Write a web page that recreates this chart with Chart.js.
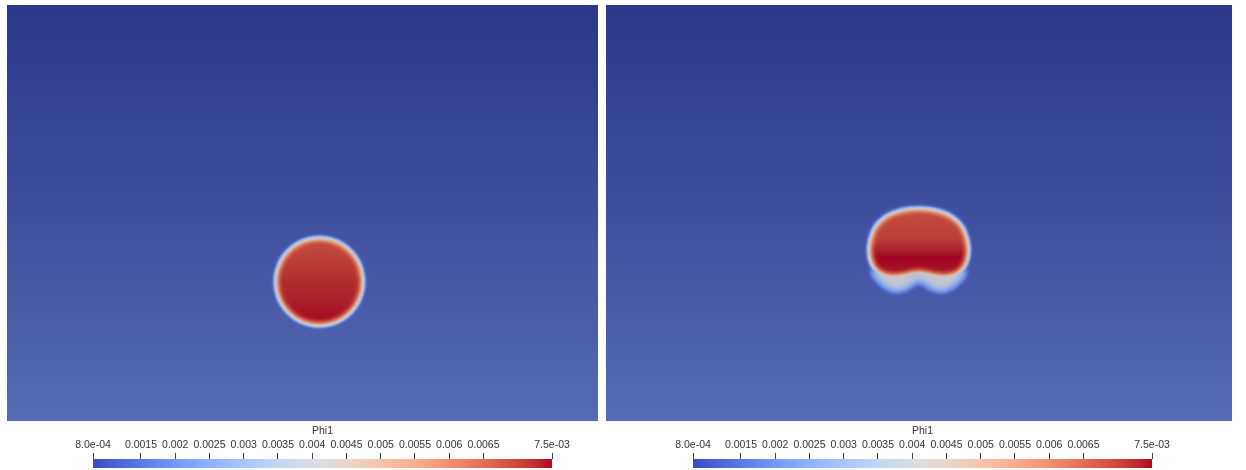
<!DOCTYPE html>
<html>
<head>
<meta charset="utf-8">
<script src="https://cdn.jsdelivr.net/npm/chart.js@4.4.1/dist/chart.umd.min.js"></script>
<style>
    body { margin: 0; width: 1246px; height: 470px; background: #fff; position: relative; overflow: hidden; }
    canvas { position: absolute; }
</style>
</head>
<body>
<canvas id="fieldLeft" width="591" height="416" style="left:7px;top:5px"></canvas>
<canvas id="fieldRight" width="626" height="416" style="left:606px;top:5px"></canvas>
<canvas id="barLeft" width="560" height="48" style="left:40px;top:422px"></canvas>
<canvas id="barRight" width="560" height="48" style="left:640px;top:422px"></canvas>
<script>
// Plage de Phi1 et graduations de la barre de couleurs
const phiMin = 0.0008;
const phiMax = 0.0075;
const phiTicks = [0.0008, 0.0015, 0.002, 0.0025, 0.003, 0.0035, 0.004, 0.0045, 0.005, 0.0055, 0.006, 0.0065, 0.0075];

// Contour de la goutte, instant initial (x, y en unités de hauteur du domaine)
const dropletLeft = [
    [0.857, 0.335], [0.843, 0.388], [0.804, 0.427], [0.751, 0.441],
    [0.698, 0.427], [0.659, 0.388], [0.645, 0.335], [0.659, 0.282],
    [0.698, 0.243], [0.751, 0.229], [0.804, 0.243], [0.843, 0.282]
];
// Phi1 à l'intérieur de la goutte selon la hauteur [y, phi]
const dropletLeftPhi = [[0.441, 0.0068], [0.335, 0.0072], [0.229, 0.0075]];

// Contour de la goutte déformée, instant final
const dropletRight = [
    [0.752, 0.512], [0.813, 0.502], [0.853, 0.474], [0.870, 0.435],
    [0.872, 0.399], [0.861, 0.368], [0.837, 0.350], [0.803, 0.346],
    [0.752, 0.355], [0.702, 0.346], [0.668, 0.350], [0.643, 0.368],
    [0.632, 0.399], [0.634, 0.435], [0.651, 0.474], [0.691, 0.502]
];
const dropletRightPhi = [[0.512, 0.0068], [0.44, 0.0070], [0.395, 0.0075], [0.36, 0.0074]];

// Lobes diffus sous la goutte déformée
const wakeRight = [
    [0.643, 0.368], [0.656, 0.334], [0.690, 0.312], [0.724, 0.318],
    [0.752, 0.338], [0.781, 0.318], [0.815, 0.312], [0.849, 0.334],
    [0.861, 0.368], [0.752, 0.368]
];
const wakeRightPhi = [[0.37, 0.0041], [0.30, 0.0041]];

// Table de couleurs "Cool to Warm"
const coolWarmTable = [
    [59, 76, 192], [68, 90, 204], [77, 104, 215], [87, 117, 225], [98, 130, 234],
    [108, 142, 241], [119, 154, 247], [130, 165, 251], [141, 176, 254], [152, 185, 255],
    [163, 194, 255], [174, 201, 253], [184, 208, 249], [194, 213, 244], [204, 217, 238],
    [213, 219, 230], [221, 221, 221], [229, 216, 209], [236, 211, 197], [241, 204, 185],
    [245, 196, 173], [247, 187, 160], [247, 177, 148], [247, 166, 135], [244, 154, 123],
    [241, 141, 111], [236, 127, 99], [229, 112, 88], [222, 96, 77], [213, 80, 66],
    [203, 62, 56], [192, 40, 47], [180, 4, 38]
];

function coolWarm(t) {
    t = Math.min(1, Math.max(0, t)) * (coolWarmTable.length - 1);
    const i = Math.min(coolWarmTable.length - 2, Math.floor(t));
    const f = t - i;
    const a = coolWarmTable[i], b = coolWarmTable[i + 1];
    return [a[0] + (b[0] - a[0]) * f, a[1] + (b[1] - a[1]) * f, a[2] + (b[2] - a[2]) * f];
}

// Interpolation linéaire de phi selon la hauteur
function interpStops(stops, y) {
    const s = stops.slice().sort((p, q) => p[0] - q[0]);
    if (y <= s[0][0]) return s[0][1];
    if (y >= s[s.length - 1][0]) return s[s.length - 1][1];
    for (let i = 0; i < s.length - 1; i++) {
        if (y <= s[i + 1][0]) {
            const f = (y - s[i][0]) / (s[i + 1][0] - s[i][0]);
            return s[i][1] + (s[i + 1][1] - s[i][1]) * f;
        }
    }
    return s[s.length - 1][1];
}

// Courbe fermée lissée (Catmull-Rom) passant par les points
function closedSpline(ctx, pts) {
    const n = pts.length;
    ctx.moveTo(pts[0][0], pts[0][1]);
    for (let i = 0; i < n; i++) {
        const p0 = pts[(i - 1 + n) % n], p1 = pts[i], p2 = pts[(i + 1) % n], p3 = pts[(i + 2) % n];
        ctx.bezierCurveTo(
            p1[0] + (p2[0] - p0[0]) / 6, p1[1] + (p2[1] - p0[1]) / 6,
            p2[0] - (p3[0] - p1[0]) / 6, p2[1] - (p3[1] - p1[1]) / 6,
            p2[0], p2[1]
        );
    }
    ctx.closePath();
}

function blurredMask(w, h, pts, blur) {
    const c = document.createElement('canvas');
    c.width = w;
    c.height = h;
    const m = c.getContext('2d');
    m.filter = `blur(${blur}px)`;
    m.fillStyle = '#fff';
    m.beginPath();
    closedSpline(m, pts);
    m.fill();
    return m.getImageData(0, 0, w, h).data;
}

// Plugin : fond dégradé + champ Phi1 des gouttes, calculé à partir des points placés par les échelles
const fieldPlugin = {
    id: 'field',
    beforeDatasetsDraw(chart, args, opts) {
        const { ctx, chartArea: area, scales } = chart;
        const w = chart.width, h = chart.height;

        const bg = ctx.createLinearGradient(0, area.top, 0, area.bottom);
        opts.background.forEach(([stop, color]) => bg.addColorStop(stop, color));
        ctx.save();
        ctx.fillStyle = bg;
        ctx.fillRect(area.left, area.top, area.width, area.height);
        ctx.restore();

        const layers = chart.data.datasets.map((ds, i) => {
            const pts = chart.getDatasetMeta(i).data.map(p => [p.x, p.y]);
            const rows = new Float32Array(h);
            for (let py = 0; py < h; py++) {
                rows[py] = interpStops(ds.phi, scales.y.getValueForPixel(py));
            }
            return { mask: blurredMask(w, h, pts, ds.blur), rows };
        });

        const img = ctx.getImageData(0, 0, w, h);
        const px = img.data;
        for (let y = 0; y < h; y++) {
            for (let x = 0; x < w; x++) {
                const k = (y * w + x) * 4;
                let phi = phiMin, cover = 0;
                for (const l of layers) {
                    const m = l.mask[k + 3] / 255;
                    if (m > cover) cover = m;
                    const v = phiMin + m * (l.rows[y] - phiMin);
                    if (v > phi) phi = v;
                }
                if (cover < 0.005) continue;
                const c = coolWarm((phi - phiMin) / (phiMax - phiMin));
                const a = Math.min(1, cover * opts.edge);
                for (let j = 0; j < 3; j++) {
                    px[k + j] = px[k + j] * (1 - a) + c[j] * opts.shade * a;
                }
            }
        }
        ctx.putImageData(img, 0, 0);
    }
};

function toPoints(list) {
    return list.map(([x, y]) => ({ x, y }));
}

function createFieldChart(canvasId, xMax, drops) {
    const canvas = document.getElementById(canvasId);
    return new Chart(canvas, {
        type: 'scatter',
        data: {
            datasets: drops.map(d => ({
                data: toPoints(d.outline),
                phi: d.phi,
                blur: d.blur,
                pointRadius: 0,
                showLine: false
            }))
        },
        options: {
            responsive: false,
            animation: false,
            events: [],
            layout: { padding: 0 },
            plugins: {
                legend: { display: false },
                tooltip: { enabled: false },
                field: {
                    background: [[0, '#2c388a'], [0.5, '#3f4f9e'], [1, '#576bb4']],
                    shade: 0.9,
                    edge: 3
                }
            },
            scales: {
                x: { type: 'linear', display: false, min: 0, max: xMax },
                y: { type: 'linear', display: false, min: 0, max: 1 }
            }
        },
        plugins: [fieldPlugin]
    });
}

function formatPhi(v) {
    if (v === phiMin || v === phiMax) {
        const [m, e] = v.toExponential(1).split('e');
        const sign = e[0] === '-' ? '-' : '+';
        const digits = e.replace(/[-+]/, '').padStart(2, '0');
        return `${m}e${sign}${digits}`;
    }
    return String(parseFloat(v.toFixed(4)));
}

function createColorBar(canvasId) {
    const canvas = document.getElementById(canvasId);
    const font = { family: '"Liberation Sans", Arial, sans-serif', size: 10.5 };
    return new Chart(canvas, {
        type: 'bar',
        data: {
            labels: ['Phi1'],
            datasets: [{
                data: [[phiMin, phiMax]],
                borderWidth: 0,
                barPercentage: 1,
                categoryPercentage: 1,
                backgroundColor: c => {
                    const chart = c.chart;
                    if (!chart.chartArea) return '#888';
                    const sx = chart.scales.x;
                    const g = chart.ctx.createLinearGradient(sx.getPixelForValue(phiMin), 0, sx.getPixelForValue(phiMax), 0);
                    coolWarmTable.forEach((rgb, i) => {
                        g.addColorStop(i / (coolWarmTable.length - 1), `rgb(${rgb[0]},${rgb[1]},${rgb[2]})`);
                    });
                    return g;
                }
            }]
        },
        options: {
            indexAxis: 'y',
            responsive: false,
            animation: false,
            events: [],
            layout: { padding: { left: 53, right: 48, top: 0, bottom: 2 } },
            plugins: {
                legend: { display: false },
                tooltip: { enabled: false }
            },
            scales: {
                x: {
                    type: 'linear',
                    position: 'top',
                    min: phiMin,
                    max: phiMax,
                    afterBuildTicks: axis => { axis.ticks = phiTicks.map(v => ({ value: v })); },
                    afterFit: axis => { axis.height = 37; },
                    ticks: {
                        autoSkip: false,
                        maxRotation: 0,
                        padding: 2,
                        color: '#333',
                        font: font,
                        callback: v => formatPhi(v)
                    },
                    grid: { drawOnChartArea: false, drawTicks: true, tickLength: 6, color: '#444' },
                    border: { display: false },
                    title: {
                        display: true,
                        text: 'Phi1',
                        color: '#333',
                        font: font,
                        padding: { top: 3, bottom: 0 }
                    }
                },
                y: { display: false }
            }
        }
    });
}

createFieldChart('fieldLeft', 591 / 416, [
    { outline: dropletLeft, phi: dropletLeftPhi, blur: 3 }
]);
createFieldChart('fieldRight', 626 / 416, [
    { outline: dropletRight, phi: dropletRightPhi, blur: 3 },
    { outline: wakeRight, phi: wakeRightPhi, blur: 5 }
]);
createColorBar('barLeft');
createColorBar('barRight');
</script>
</body>
</html>
